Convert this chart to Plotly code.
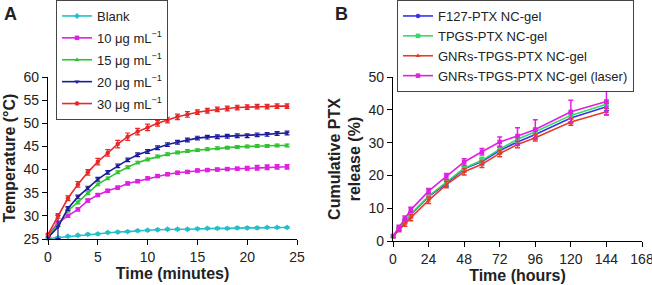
import plotly.graph_objects as go

# ---------------- Panel A data ----------------
time_min = list(range(0, 25))
blank = [25.1, 25.3, 25.6, 25.8, 26.0, 26.1, 26.4, 26.5, 26.6, 26.8, 26.9, 27.0, 27.1,
         27.1, 27.1, 27.2, 27.3, 27.3, 27.3, 27.4, 27.4, 27.4, 27.5, 27.5, 27.5]
c10 = [25.8, 28.5, 30.0, 31.4, 33.3, 34.5, 35.4, 36.1, 37.0, 37.5, 38.1, 38.6, 39.0,
       39.3, 39.5, 39.8, 39.9, 40.0, 40.1, 40.2, 40.3, 40.4, 40.5, 40.6, 40.6]
c15 = [25.5, 28.0, 31.1, 32.9, 34.9, 36.8, 38.1, 39.4, 40.5, 41.5, 42.2, 42.8, 43.3,
       43.7, 44.0, 44.2, 44.4, 44.6, 44.7, 44.9, 45.0, 45.1, 45.1, 45.2, 45.2]
c20 = [25.3, 27.6, 31.6, 34.1, 36.0, 37.9, 39.4, 40.8, 42.1, 43.2, 43.9, 44.7, 45.4,
       45.9, 46.4, 46.8, 47.0, 47.1, 47.2, 47.3, 47.3, 47.5, 47.6, 47.8, 47.9]
c30 = [26.0, 30.0, 33.8, 36.8, 39.4, 41.7, 43.6, 45.5, 47.1, 48.2, 49.1, 50.0, 50.7,
       51.4, 51.9, 52.4, 52.7, 53.0, 53.2, 53.4, 53.5, 53.6, 53.6, 53.7, 53.7]
err_blank = [0.2] * 25
err_c10 = [0.3] * 20 + [0.4, 0.5, 0.5, 0.5, 0.5]
err_c15 = [0.3] * 25
err_c20 = [0.3, 2.5] + [0.4] * 23
err_c30 = [0.4, 0.5, 0.5, 0.6, 0.6, 0.7, 0.7, 0.8, 0.8, 0.7, 0.7, 0.6, 0.6,
           0.6, 0.6, 0.5, 0.5, 0.5, 0.5, 0.5, 0.5, 0.5, 0.5, 0.5, 0.5]
names_a = ["Blank", "10 μg mL<sup>−1</sup>", "15 μg mL<sup>−1</sup>",
           "20 μg mL<sup>−1</sup>", "30 μg mL<sup>−1</sup>"]

# ---------------- Panel B data ----------------
time_h = [0, 4, 8, 12, 24, 36, 48, 60, 72, 84, 96, 120, 144]
f127 = [1.5, 3.6, 6.0, 8.0, 13.5, 17.6, 22.0, 24.2, 27.6, 30.2, 32.5, 37.5, 40.9]
tpgs = [1.5, 3.7, 6.1, 8.2, 13.7, 17.9, 22.2, 24.6, 28.0, 31.0, 33.3, 38.3, 41.7]
gnrs = [1.4, 3.4, 5.3, 7.1, 12.4, 17.2, 21.1, 23.4, 26.7, 29.4, 31.5, 36.3, 39.4]
laser = [1.5, 4.0, 6.8, 9.5, 15.2, 19.7, 24.1, 27.2, 30.2, 32.0, 34.0, 39.4, 42.5]
err_f127 = [0.4, 0.5, 0.6, 0.7, 0.8, 0.8, 0.8, 0.9, 1.0, 1.0, 1.0, 1.2, 1.2]
err_tpgs = [0.4, 0.5, 0.6, 0.7, 0.8, 0.8, 0.8, 0.9, 1.0, 1.0, 1.0, 1.2, 1.2]
err_gnrs = [0.4, 0.6, 0.8, 0.9, 1.0, 1.0, 1.0, 1.0, 1.0, 1.0, 1.0, 1.0, 1.0]
err_laser = [0.4, 0.8, 0.8, 0.8, 0.8, 0.9, 1.0, 1.0, 1.5, 2.5, 3.0, 3.5, 4.0]
names_b = ["F127-PTX NC-gel", "TPGS-PTX NC-gel", "GNRs-TPGS-PTX NC-gel",
           "GNRs-TPGS-PTX NC-gel (laser)"]

FONT = "Arial, Liberation Sans, sans-serif"
fig = go.Figure()

cols_a = ["#22C0C8", "#E020E0", "#2EC42E", "#1C1C9C", "#E82828"]
syms_a = ["diamond", "square", "triangle-up", "triangle-down", "circle"]
ys_a = [blank, c10, c15, c20, c30]
errs_a = [err_blank, err_c10, err_c15, err_c20, err_c30]
for i, (nm, y, e, c, s) in enumerate(zip(names_a, ys_a, errs_a, cols_a, syms_a)):
    fig.add_trace(go.Scatter(
        x=time_min, y=y, name=nm, mode="lines+markers", legendgroup="a%d" % i,
        line=dict(color=c, width=1.6), marker=dict(color=c, size=4.5, symbol=s),
        error_y=dict(type="data", array=e, color=c, thickness=1.2, width=2.5),
        xaxis="x", yaxis="y", legend="legend", cliponaxis=False))

cols_b = ["#3535F0", "#38D868", "#E83A2A", "#E020E0"]
syms_b = ["circle", "square", "triangle-up", "square"]
ys_b = [f127, tpgs, gnrs, laser]
errs_b = [err_f127, err_tpgs, err_gnrs, err_laser]
for nm, y, e, c, s in zip(names_b, ys_b, errs_b, cols_b, syms_b):
    fig.add_trace(go.Scatter(
        x=time_h, y=y, name=nm, mode="lines+markers",
        line=dict(color=c, width=1.6), marker=dict(color=c, size=4.5, symbol=s),
        error_y=dict(type="data", array=e, color=c, thickness=1.5, width=2.5),
        xaxis="x2", yaxis="y2", legend="legend2", cliponaxis=False))

W, H = 652, 285
def px_x(p): return p / W
def px_y(p): return (H - p) / H

axis_common = dict(showline=True, linecolor="black", linewidth=1.3, ticks="outside",
                   ticklen=5, tickcolor="black", showgrid=False, zeroline=False,
                   automargin=False, ticklabeloverflow="allow",
                   tickfont=dict(family=FONT, size=14, color="#222"))
title_font = dict(family=FONT, size=16, color="#222")

fig.update_layout(
    width=W, height=H, margin=dict(l=0, r=0, t=0, b=0, autoexpand=False),
    paper_bgcolor="white", plot_bgcolor="white",
    font=dict(family=FONT, color="#222"),
    xaxis=dict(domain=[px_x(48), px_x(297)], range=[0, 25], tickvals=[0, 5, 10, 15, 20, 25],
               anchor="y", title=dict(text="<b>Time (minutes)</b>", font=title_font, standoff=3),
               **axis_common),
    yaxis=dict(domain=[px_y(239), px_y(77)], range=[25, 60], tickvals=list(range(25, 61, 5)),
               anchor="x", title=dict(text="<b>Temperature (°C)</b>", font=title_font, standoff=3),
               **axis_common),
    xaxis2=dict(domain=[px_x(393), px_x(642)], range=[0, 168], tickvals=list(range(0, 169, 24)),
                anchor="y2", title=dict(text="<b>Time (hours)</b>", font=title_font, standoff=3),
                **axis_common),
    yaxis2=dict(domain=[px_y(241), px_y(77)], range=[0, 50], tickvals=list(range(0, 51, 10)),
                anchor="x2", title=dict(text="<b>Cumulative PTX<br>release (%)</b>", font=title_font, standoff=3),
                **axis_common),
    legend=dict(x=px_x(56), y=1.0, xanchor="left", yanchor="top",
                bordercolor="#444", borderwidth=1, bgcolor="white",
                font=dict(family=FONT, size=13, color="#222"), itemwidth=30,
                traceorder="grouped", tracegroupgap=2),
    legend2=dict(x=px_x(397), y=1.0, xanchor="left", yanchor="top",
                 bordercolor="#444", borderwidth=1, bgcolor="white",
                 font=dict(family=FONT, size=13, color="#222"), itemwidth=30,
                 tracegroupgap=0),
    annotations=[
        dict(text="<b>A</b>", x=px_x(2), y=px_y(2), xref="paper", yref="paper",
             xanchor="left", yanchor="top", showarrow=False,
             font=dict(family=FONT, size=18, color="#222")),
        dict(text="<b>B</b>", x=px_x(333), y=px_y(2), xref="paper", yref="paper",
             xanchor="left", yanchor="top", showarrow=False,
             font=dict(family=FONT, size=18, color="#222")),
    ],
)

fig.write_html("out.html", config={"displayModeBar": False},
               post_script="document.body.style.margin='0px';")
